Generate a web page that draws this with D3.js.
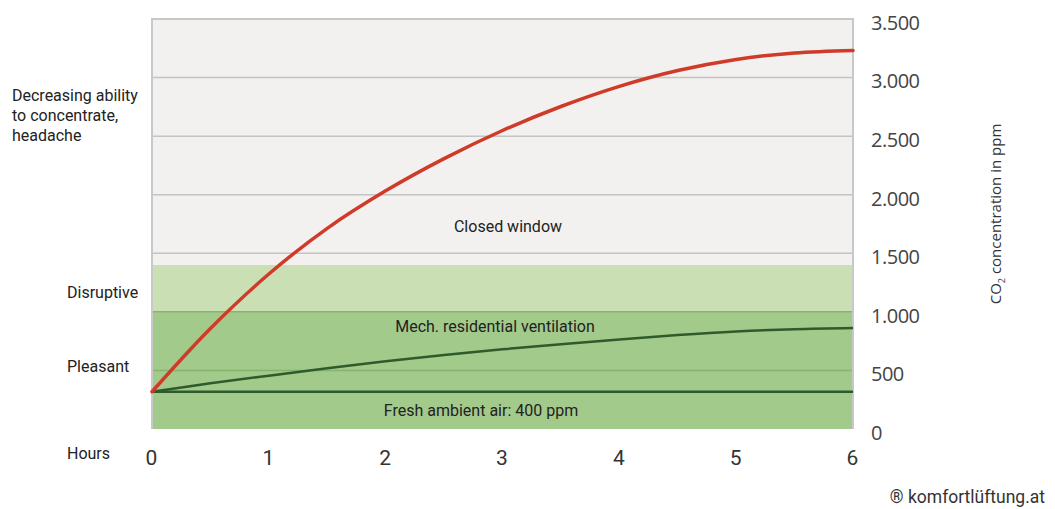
<!DOCTYPE html>
<html>
<head>
<meta charset="utf-8">
<script src="https://cdn.jsdelivr.net/npm/d3@7"></script>
<style>
  body { margin: 0; background: #fff; }
  svg text { font-family: Roboto, "Open Sans", sans-serif; }
</style>
</head>
<body>
<svg id="chart" width="1055" height="509"></svg>
<script>
// hours on the x axis
const hours = [0, 0.5, 1, 1.5, 2, 2.5, 3, 3.5, 4, 4.5, 5, 5.5, 6];
// CO2 in ppm
const closedWindow = [318, 858, 1323, 1713, 2033, 2308, 2548, 2753, 2925, 3060, 3155, 3210, 3232];
const mechVentilation = [318, 390, 455, 518, 578, 632, 680, 724, 765, 802, 832, 852, 862];
const freshAir = [318, 318, 318, 318, 318, 318, 318, 318, 318, 318, 318, 318, 318];

const xTicks = [0, 1, 2, 3, 4, 5, 6];
const yTicks = [0, 500, 1000, 1500, 2000, 2500, 3000, 3500];

// background zones [from, to] in ppm
const zones = [
  { from: 1400, to: 3500, color: "#f3f1ef" },
  { from: 1000, to: 1400, color: "#cadfb3" },
  { from: 0, to: 1000, color: "#a2ca8b" }
];

const svg = d3.select("#chart");

const x = d3.scaleLinear().domain([0, 6]).range([152, 853]);
const y = d3.scaleLinear().domain([0, 3500]).range([429, 19]);

// european number format: 3.500
const fmt = d3.formatLocale({ decimal: ",", thousands: ".", grouping: [3], currency: ["", ""] }).format(",d");

// zones
svg.selectAll("rect.zone")
  .data(zones)
  .enter().append("rect")
  .attr("class", "zone")
  .attr("x", x(0))
  .attr("width", x(6) - x(0))
  .attr("y", d => y(d.to))
  .attr("height", d => y(d.from) - y(d.to))
  .attr("fill", d => d.color);

// horizontal grid lines
svg.selectAll("line.grid")
  .data(yTicks.filter(d => d > 0 && d < 3500))
  .enter().append("line")
  .attr("class", "grid")
  .attr("x1", x(0)).attr("x2", x(6))
  .attr("y1", d => y(d)).attr("y2", d => y(d))
  .attr("stroke", d => d <= 1000 ? "#86b36f" : "#c4c4c4")
  .attr("stroke-width", 1.5);

// frame (top, left, right)
svg.append("path")
  .attr("d", `M${x(0)},${y(0)}V${y(3500)}H${x(6)}V${y(0)}`)
  .attr("fill", "none")
  .attr("stroke", "#c8c8c8")
  .attr("stroke-width", 2);

const line = d3.line()
  .x((d, i) => x(hours[i]))
  .y(d => y(d))
  .curve(d3.curveCatmullRom.alpha(0.5));

svg.append("path").datum(freshAir)
  .attr("d", line).attr("fill", "none")
  .attr("stroke", "#2f5a2c").attr("stroke-width", 2.5);

svg.append("path").datum(mechVentilation)
  .attr("d", line).attr("fill", "none")
  .attr("stroke", "#2f5a2c").attr("stroke-width", 2.5);

svg.append("path").datum(closedWindow)
  .attr("d", line).attr("fill", "none")
  .attr("stroke", "#cf3b28").attr("stroke-width", 3.5)
  .attr("stroke-linecap", "round");

// right axis
const yAxis = d3.axisRight(y).tickValues(yTicks).tickFormat(fmt).tickSize(0).tickPadding(0);
const gy = svg.append("g").attr("transform", "translate(871,4)").call(yAxis);
gy.select(".domain").remove();
gy.selectAll("text")
  .style("font-family", "'Open Sans', sans-serif")
  .style("font-size", "20px")
  .style("letter-spacing", "-0.5px")
  .attr("fill", "#444");

// bottom axis
const xAxis = d3.axisBottom(x).tickValues(xTicks).tickFormat(d3.format("d")).tickSize(0).tickPadding(0);
const gx = svg.append("g").attr("transform", "translate(-1,450)").call(xAxis);
gx.select(".domain").remove();
gx.selectAll("text")
  .style("font-size", "21px")
  .attr("fill", "#333");

// left labels
const leftText = svg.append("g").attr("fill", "#222").style("font-size", "16px");
leftText.append("text").attr("x", 12).attr("y", 101).text("Decreasing ability");
leftText.append("text").attr("x", 12).attr("y", 121).text("to concentrate,");
leftText.append("text").attr("x", 12).attr("y", 141).text("headache");
leftText.append("text").attr("x", 67).attr("y", 298).text("Disruptive");
leftText.append("text").attr("x", 67).attr("y", 372).text("Pleasant");
leftText.append("text").attr("x", 67).attr("y", 459).text("Hours");

// in-plot labels
const inner = svg.append("g").attr("fill", "#222").attr("text-anchor", "middle").style("font-size", "16px");
inner.append("text").attr("x", 508).attr("y", 232).text("Closed window");
inner.append("text").attr("x", 495).attr("y", 332).text("Mech. residential ventilation");
inner.append("text").attr("x", 481).attr("y", 416).text("Fresh ambient air: 400 ppm");

// right axis title
const title = svg.append("text")
  .attr("transform", "translate(1001,214) rotate(-90)")
  .attr("text-anchor", "middle")
  .attr("fill", "#333")
  .style("font-family", "'Open Sans', sans-serif")
  .style("font-size", "15px");
title.append("tspan").text("CO");
title.append("tspan").attr("dy", 4).style("font-size", "9px").text("2");
title.append("tspan").attr("dy", -4).text(" concentration in ppm");

// credit
svg.append("text")
  .attr("x", 1045).attr("y", 503)
  .attr("text-anchor", "end")
  .attr("fill", "#333")
  .style("font-size", "17.5px")
  .text("® komfortlüftung.at");
</script>
</body>
</html>
